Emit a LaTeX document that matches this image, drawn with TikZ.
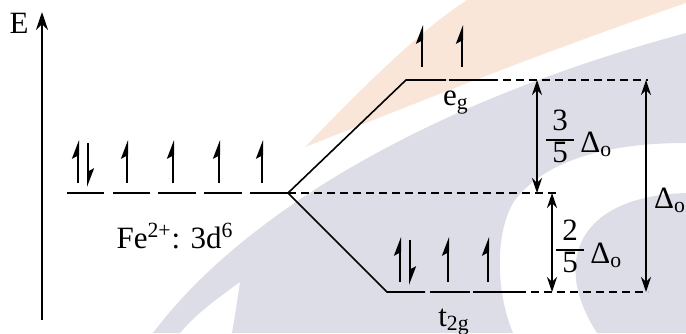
\documentclass[tikz,border=0pt]{standalone}
\usepackage{fontspec}
\setmainfont{Liberation Serif}
\usetikzlibrary{arrows.meta}
\definecolor{wmgray}{RGB}{221,221,231}
\definecolor{wmorange}{RGB}{250,230,216}
\newcommand\myvfrac[2]{{\renewcommand\arraystretch{0.86}\setlength\arrayrulewidth{0.7pt}%
  \begin{tabular}{@{\hspace{3pt}}c@{\hspace{3pt}}}#1\\\hline #2\end{tabular}}}
\begin{document}
\begin{tikzpicture}[x=0.5pt,y=-0.5pt,
  font=\fontsize{15.5}{18}\selectfont,
  level/.style={line width=0.8pt},
  dashlev/.style={line width=0.7pt, dash pattern=on 4pt off 2.5pt},
  spin/.style={line width=1pt, -{Stealth[left,length=8pt,width=6pt,inset=1.5pt]}},
  gaparrow/.style={line width=0.8pt, {Stealth[length=7.5pt,width=5pt]}-{Stealth[length=7.5pt,width=5pt]}},
  axis/.style={line width=1pt, -{Stealth[length=9pt,width=6pt]}},
  lab/.style={inner sep=0pt}]
\useasboundingbox (0,0) rectangle (686,333);
% watermark
\fill[wmorange] (305,147) .. controls (360,90) and (420,30) .. (467,0) -- (686,0) -- (686,3)
  .. controls (520,60) and (400,110) .. (305,147) -- cycle;
\fill[wmgray] (153,333) .. controls (230,230) and (400,110) .. (686,33) -- (686,143)
  .. controls (620,143) and (550,155) .. (515,200)
  .. controls (495,230) and (495,290) .. (513,333) -- (232,333)
  .. controls (236,310) and (238,295) .. (240,282)
  .. controls (215,300) and (195,315) .. (180,333) -- cycle;
\fill[wmgray] (686,193) .. controls (580,196) and (550,260) .. (597,333) -- (686,333) -- cycle;
% axis
\coordinate (ax0) at (42,320);
\coordinate (ax1) at (42,12);
\draw[axis] (ax0) -- (ax1);
\node[lab, anchor=base] (E) at (19,33) {E};
% free ion levels
\foreach \a/\b [count=\i] in {67/104,113/150,158/196,204/242,250/288}{
  \coordinate (d\i a) at (\a,193);
  \coordinate (d\i b) at (\b,193);
  \draw[level] (d\i a) -- (d\i b);
}
\coordinate (S) at (288,193);
% spins free ion
\draw[spin] (78,183) -- (78,140);
\draw[spin] (88,143) -- (88,187);
\foreach \x in {127,173,219,262}{\draw[spin] (\x,183) -- (\x,140);}
\node[lab, anchor=base] (fe) at (175,248) {Fe\textsuperscript{2+}: 3d\textsuperscript{6}};
% eg
\coordinate (eg0) at (406,80);
\coordinate (eg1) at (446,80);
\coordinate (eg2) at (449,80);
\coordinate (eg3) at (490,80);
\coordinate (egR) at (648,80);
\draw[level] (S) -- (eg0) -- (eg1);
\draw[level] (eg2) -- (eg3);
\draw[dashlev] (eg3) -- (egR);
\draw[spin] (422,67) -- (422,25);
\draw[spin] (462,67) -- (462,25);
\node[lab, anchor=base] (eg) at (456,105) {e\textsubscript{g}};
% t2g
\coordinate (t0) at (387,292);
\coordinate (t1) at (425,292);
\coordinate (t2) at (430,292);
\coordinate (t3) at (470,292);
\coordinate (t4) at (473,292);
\coordinate (t5) at (518,292);
\coordinate (tR) at (648,292);
\draw[level] (S) -- (t0) -- (t1);
\draw[level] (t2) -- (t3);
\draw[level] (t4) -- (t5);
\draw[dashlev] (t5) -- (tR);
\draw[spin] (400,282) -- (400,237);
\draw[spin] (410,240) -- (410,285);
\draw[spin] (448,282) -- (448,237);
\draw[spin] (488,282) -- (488,237);
\node[lab, anchor=base] (t2g) at (454,326) {t\textsubscript{2g}};
% barycentre
\coordinate (bR) at (556,193);
\draw[dashlev] (S) -- (bR);
% gap arrows
\coordinate (g1a) at (537,80);
\coordinate (g1b) at (537,193);
\coordinate (g2a) at (552,193);
\coordinate (g2b) at (552,292);
\coordinate (g3a) at (646,80);
\coordinate (g3b) at (646,292);
\draw[gaparrow] (g1a) -- (g1b);
\draw[gaparrow] (g2a) -- (g2b);
\draw[gaparrow] (g3a) -- (g3b);
\node[lab] (f35) at (560,140) {\myvfrac{3}{5}};
\node[lab, anchor=base west] (d35) at (580,152) {Δ\textsubscript{o}};
\node[lab] (f25) at (570,250) {\myvfrac{2}{5}};
\node[lab, anchor=base west] (d25) at (590,263) {Δ\textsubscript{o}};
\node[lab, anchor=base] (ld) at (670,208) {Δ\textsubscript{o}};
\end{tikzpicture}
\end{document}
